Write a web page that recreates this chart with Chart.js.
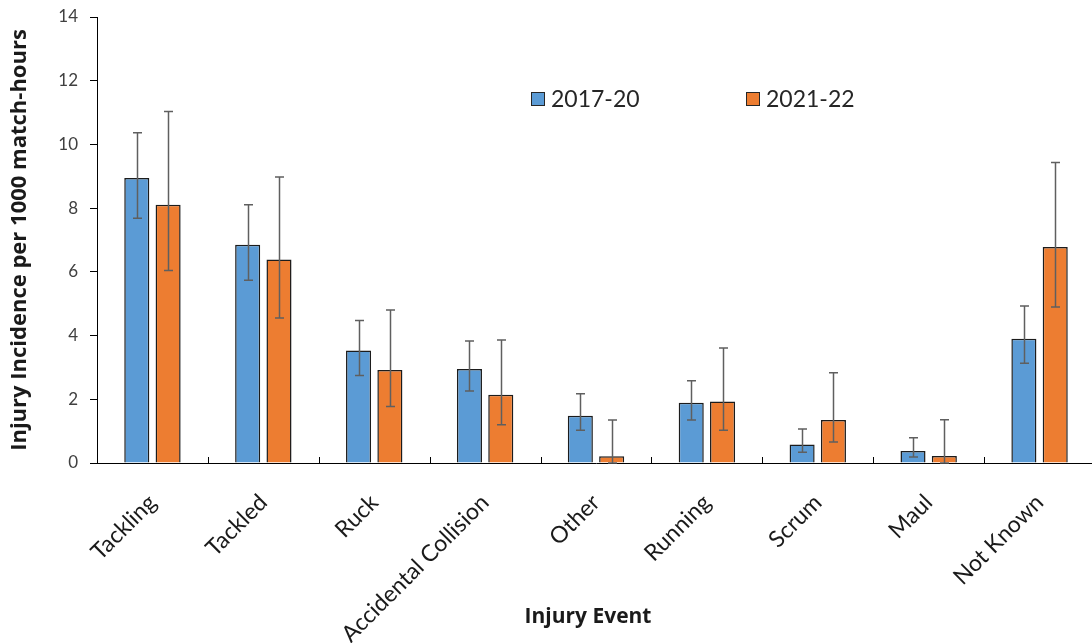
<!DOCTYPE html>
<html>
<head>
<meta charset="utf-8">
<script src="https://cdn.jsdelivr.net/npm/chart.js@4/dist/chart.umd.min.js"></script>
<style>
  html, body { margin: 0; padding: 0; background: #ffffff; overflow: hidden; }
  #wrap { width: 1100px; height: 643px; }
</style>
</head>
<body>
<div id="wrap"><canvas id="c" width="1100" height="643"></canvas></div>
<script>
// Injury events and incidence (per 1000 match-hours) with 95% CI bounds
const categories = ['Tackling', 'Tackled', 'Ruck', 'Accidental Collision', 'Other', 'Running', 'Scrum', 'Maul', 'Not Known'];
const seriesLabels = ['2017-20', '2021-22'];
const values2017 = [8.95, 6.85, 3.53, 2.95, 1.48, 1.89, 0.58, 0.38, 3.90];
const upper2017  = [10.37, 8.11, 4.47, 3.83, 2.17, 2.58, 1.07, 0.79, 4.93];
const lower2017  = [7.68, 5.74, 2.75, 2.26, 1.03, 1.35, 0.34, 0.19, 3.13];
const values2021 = [8.11, 6.39, 2.92, 2.14, 0.21, 1.93, 1.35, 0.22, 6.78];
const upper2021  = [11.03, 8.98, 4.80, 3.86, 1.35, 3.61, 2.83, 1.36, 9.43];
const lower2021  = [6.04, 4.55, 1.77, 1.20, 0.00, 1.03, 0.66, 0.00, 4.90];
const yTicks = [0, 2, 4, 6, 8, 10, 12, 14];

const BLUE = '#5B9BD5';
const ORANGE = '#ED7D31';
const FONT = 'Lato, "Open Sans", sans-serif';
const TITLE_FONT = '"Open Sans", Lato, sans-serif';

// Confidence interval whiskers, placed with the chart's own scales
const errorBars = {
  id: 'errorBars',
  afterDatasetsDraw(chart) {
    const ctx = chart.ctx;
    const y = chart.scales.y;
    const bounds = [[lower2017, upper2017], [lower2021, upper2021]];
    ctx.save();
    ctx.strokeStyle = '#5f5f5f';
    ctx.lineWidth = 1.5;
    bounds.forEach((b, di) => {
      const meta = chart.getDatasetMeta(di);
      meta.data.forEach((bar, i) => {
        const x = Math.round(bar.x) + 0.5;
        const yLo = y.getPixelForValue(b[0][i]);
        const yHi = y.getPixelForValue(b[1][i]);
        const cap = 4.5;
        ctx.beginPath();
        ctx.moveTo(x, yLo); ctx.lineTo(x, yHi);
        ctx.moveTo(x - cap, yHi); ctx.lineTo(x + cap, yHi);
        ctx.moveTo(x - cap, yLo); ctx.lineTo(x + cap, yLo);
        ctx.stroke();
      });
    });
    ctx.restore();
  }
};

// Short inward tick marks between categories on the x axis
const categoryMarks = {
  id: 'categoryMarks',
  afterDraw(chart) {
    const ctx = chart.ctx;
    const xs = chart.scales.x;
    const base = chart.chartArea.bottom;
    const step = xs.width / categories.length;
    ctx.save();
    ctx.strokeStyle = '#000000';
    ctx.lineWidth = 1;
    for (let i = 1; i < categories.length; i++) {
      const px = Math.round(xs.left + step * i) + 0.5;
      ctx.beginPath();
      ctx.moveTo(px, base);
      ctx.lineTo(px, base - 6);
      ctx.stroke();
    }
    ctx.restore();
  }
};

// Legend drawn inside the plot area
const innerLegend = {
  id: 'innerLegend',
  afterDraw(chart) {
    const ctx = chart.ctx;
    const items = [
      { x: 531, color: BLUE, text: seriesLabels[0] },
      { x: 746, color: ORANGE, text: seriesLabels[1] }
    ];
    const cy = 99;
    ctx.save();
    ctx.font = '23px ' + FONT;
    ctx.textBaseline = 'middle';
    ctx.textAlign = 'left';
    items.forEach(it => {
      ctx.fillStyle = it.color;
      ctx.fillRect(it.x, cy - 7, 14, 14);
      ctx.strokeStyle = '#262626';
      ctx.lineWidth = 1;
      ctx.strokeRect(it.x + 0.5, cy - 6.5, 13, 13);
      ctx.fillStyle = '#262626';
      ctx.fillText(it.text, it.x + 20, cy + 1);
    });
    ctx.restore();
  }
};

// Horizontal axis title, centred under the category band
const xTitle = {
  id: 'xTitle',
  afterDraw(chart) {
    const ctx = chart.ctx;
    ctx.save();
    ctx.font = 'bold 21px ' + TITLE_FONT;
    ctx.fillStyle = '#1a1a1a';
    ctx.textAlign = 'center';
    ctx.textBaseline = 'middle';
    ctx.fillText('Injury Event', 588, 617);
    ctx.restore();
  }
};

new Chart(document.getElementById('c'), {
  type: 'bar',
  data: {
    labels: categories,
    datasets: [
      {
        label: seriesLabels[0],
        data: values2017,
        backgroundColor: BLUE,
        borderColor: '#1c1c1c',
        borderWidth: 1.5,
        borderSkipped: 'bottom'
      },
      {
        label: seriesLabels[1],
        data: values2021,
        backgroundColor: ORANGE,
        borderColor: '#1c1c1c',
        borderWidth: 1.5,
        borderSkipped: 'bottom'
      }
    ]
  },
  options: {
    responsive: false,
    animation: false,
    devicePixelRatio: 1,
    categoryPercentage: 0.565,
    barPercentage: 0.8,
    layout: { padding: { top: 17, right: 5, left: 0, bottom: 0 } },
    plugins: {
      legend: { display: false },
      tooltip: { enabled: false }
    },
    scales: {
      x: {
        grid: { display: false },
        border: { display: true, color: '#000000', width: 1 },
        ticks: {
          color: '#1a1a1a',
          font: { family: FONT, size: 23 },
          maxRotation: 45,
          minRotation: 45,
          padding: 18,
          autoSkip: false
        },
        afterFit(scale) { scale.height = 180; }
      },
      y: {
        min: 0,
        max: 14,
        afterBuildTicks(scale) { scale.ticks = yTicks.map(v => ({ value: v })); },
        grid: {
          drawOnChartArea: false,
          drawTicks: true,
          tickLength: 7,
          color: '#000000'
        },
        border: { display: true, color: '#000000', width: 1 },
        ticks: {
          color: '#404040',
          font: { family: FONT, size: 17 },
          padding: 12
        },
        title: {
          display: true,
          text: 'Injury Incidence per 1000 match-hours',
          color: '#1a1a1a',
          font: { family: TITLE_FONT, size: 22, weight: 'bold' },
          padding: { top: 7, bottom: 0 }
        },
        afterFit(scale) {
          scale.width = 97;
          scale.paddingTop = 0;
          scale.paddingBottom = 0;
        }
      }
    }
  },
  plugins: [errorBars, categoryMarks, innerLegend, xTitle]
});
</script>
</body>
</html>
